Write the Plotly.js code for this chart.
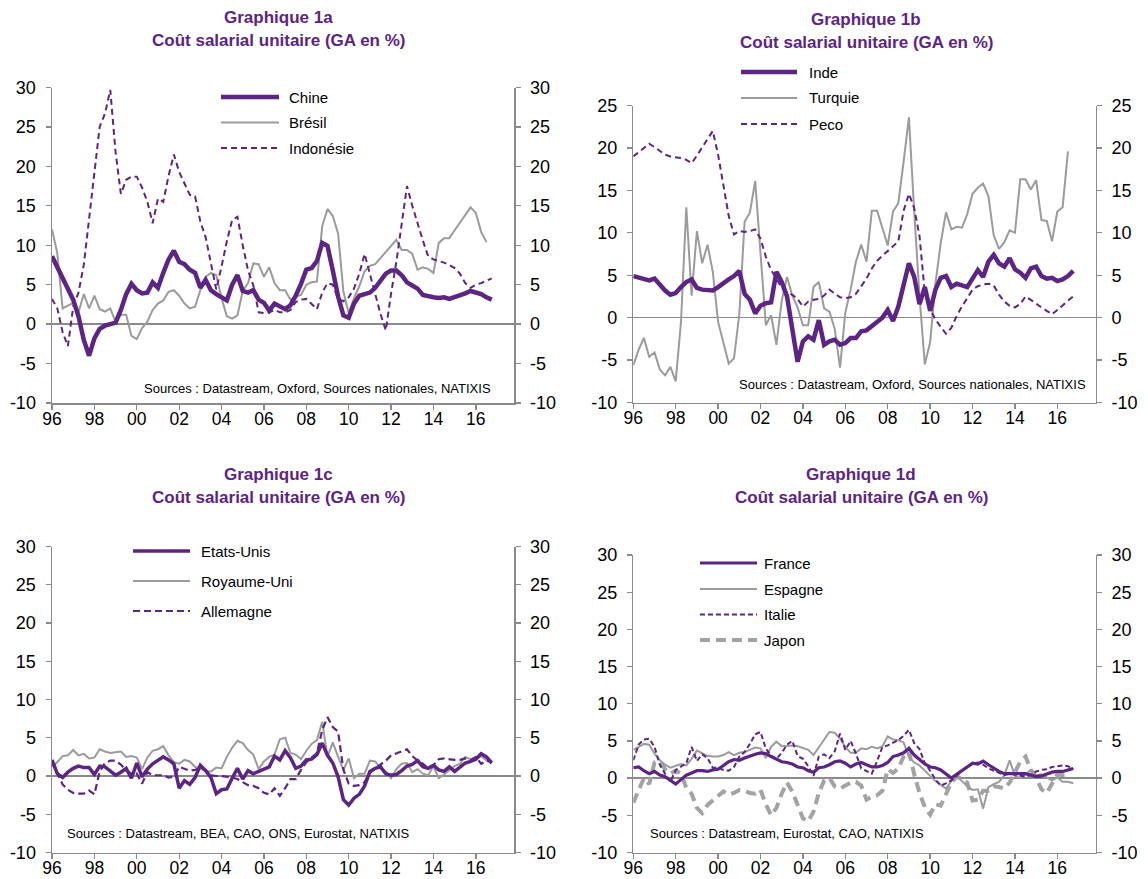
<!DOCTYPE html>
<html><head><meta charset="utf-8">
<script src="https://cdn.plot.ly/plotly-3.0.1.min.js"></script>
<style>html,body{margin:0;padding:0;background:#fff}#chart{width:1148px;height:879px}</style>
</head><body><div id="chart"></div>
<script>
// ---------- DATA ----------
const quarters = [];
for (let i = 0; i < 84; i++) quarters.push(1996 + i / 4);
const tickYears = [1996, 1998, 2000, 2002, 2004, 2006, 2008, 2010, 2012, 2014, 2016];
const tickLabels = ['96', '98', '00', '02', '04', '06', '08', '10', '12', '14', '16'];
const yTicks30 = [-10, -5, 0, 5, 10, 15, 20, 25, 30];
const yLabels30 = ['-10', '-5', '0', '5', '10', '15', '20', '25', '30'];
const yTicks25 = [-10, -5, 0, 5, 10, 15, 20, 25];
const yLabels25 = ['-10', '-5', '0', '5', '10', '15', '20', '25'];

// Graphique 1a
const chine = [8.6,7.3,6.0,4.5,3.1,1.0,-2.0,-4.0,-1.8,-0.6,-0.2,0.0,0.2,1.8,3.8,5.1,4.3,3.9,4.0,5.3,4.6,6.5,8.2,9.3,7.9,7.6,6.9,6.5,4.6,5.6,4.3,3.8,3.4,3.0,5.0,6.2,4.2,4.0,4.3,3.1,2.7,1.7,2.6,2.2,1.9,2.4,3.6,5.1,6.9,7.1,8.0,10.3,9.9,6.8,3.5,1.1,0.8,2.6,3.6,3.8,4.0,4.6,5.5,6.4,6.8,6.8,6.2,5.3,4.9,4.5,3.7,3.5,3.4,3.3,3.4,3.2,3.4,3.6,3.9,4.2,4.0,3.8,3.4,3.1];
const bresil = [12.0,9.0,2.0,2.4,2.7,1.5,3.8,2.0,3.6,1.9,1.6,2.0,0.3,1.2,1.2,-1.5,-1.9,-0.5,0.3,1.8,2.6,3.0,4.1,4.3,3.6,2.6,2.0,2.2,4.3,6.0,6.5,6.2,3.3,1.0,0.7,1.1,4.2,5.2,7.7,7.6,6.0,7.2,5.2,4.3,4.3,3.1,3.5,3.7,5.0,5.3,5.4,12.4,14.6,13.7,11.5,4.1,1.4,3.3,4.8,6.7,7.4,7.6,8.4,9.1,10.0,10.7,9.4,9.4,8.9,6.9,7.2,7.0,6.5,10.3,10.9,10.9,11.9,12.9,13.9,14.8,14.1,11.7,10.4];
const indonesie = [3.2,2.0,-1.0,-2.8,2.2,4.0,7.5,13.2,19.0,25.0,26.7,29.7,21.8,16.5,18.3,18.7,18.7,17.3,15.5,12.8,15.9,15.5,18.8,21.5,19.3,17.8,16.4,16.2,13.0,11.0,7.5,4.4,7.3,10.5,13.2,13.6,10.0,6.8,4.9,1.5,1.4,1.5,1.8,1.5,1.5,1.8,2.8,3.1,3.2,2.6,1.9,4.0,5.2,5.0,3.2,2.9,3.4,4.5,6.4,8.9,6.3,3.8,1.3,-0.8,3.9,7.9,12.7,17.5,15.0,12.7,10.6,8.6,8.2,8.0,7.8,7.5,7.1,6.4,5.2,4.6,5.0,5.2,5.5,5.8];

// Graphique 1b
const inde = [4.9,4.7,4.5,4.4,4.6,3.9,3.2,2.7,2.9,3.6,4.2,4.5,3.5,3.3,3.3,3.2,3.6,4.1,4.5,4.9,5.5,2.8,2.1,0.5,1.4,1.7,1.8,5.4,4.2,2.5,-1.3,-5.2,-2.8,-2.2,-2.6,-0.3,-3.2,-2.8,-2.6,-3.2,-3.0,-2.4,-2.4,-1.6,-1.5,-1.0,-0.4,0.0,0.9,-0.4,1.3,4.0,6.4,4.8,1.6,3.6,0.8,3.3,4.7,4.9,3.6,4.0,3.8,3.6,4.6,5.6,4.8,6.6,7.4,6.4,6.0,7.0,5.7,5.3,4.7,5.8,6.0,4.9,4.6,4.7,4.3,4.5,4.9,5.5];
const turquie = [-5.6,-3.8,-2.4,-4.6,-4.1,-6.1,-6.8,-5.8,-7.5,-0.5,13.0,2.6,10.2,6.4,8.6,5.4,-0.5,-2.9,-5.4,-4.8,0.4,11.3,12.4,16.1,8.0,-0.9,0.3,-3.2,2.0,4.8,2.6,1.2,-0.9,-0.9,3.6,4.2,1.1,0.7,-1.3,-5.9,0.6,3.3,6.6,8.6,6.6,12.6,12.6,10.6,8.5,12.5,13.5,18.4,23.6,12.5,2.5,-5.5,-2.9,4.0,8.8,12.4,10.4,10.7,10.6,12.2,14.6,15.3,15.8,14.3,9.7,8.1,8.9,10.3,10.0,16.3,16.3,15.1,16.2,11.5,11.4,9.0,12.5,13.0,19.6];
const peco = [19.0,19.5,20.0,20.5,20.1,19.6,19.2,19.0,18.9,18.8,18.6,18.2,19.1,20.1,21.0,22.0,19.2,15.5,12.0,9.8,10.2,10.1,10.2,10.4,9.3,7.2,5.6,4.6,3.5,3.0,2.7,2.2,1.3,1.9,2.1,2.2,2.6,3.3,2.8,2.4,2.3,2.4,2.8,3.7,4.6,5.8,6.7,7.3,7.8,8.4,9.0,12.6,14.6,12.9,9.6,2.9,1.0,-0.2,-1.1,-1.9,-1.2,0.2,1.3,2.3,3.3,3.7,3.9,4.0,3.8,2.7,1.9,1.4,1.2,1.6,2.5,2.1,1.6,1.2,0.8,0.4,0.9,1.5,2.0,2.5];

// Graphique 1c
const etatsUnis = [2.1,0.3,-0.2,0.5,1.0,1.3,1.1,1.1,0.2,1.3,1.2,0.6,0.1,0.5,1.0,-0.3,1.7,-0.1,0.9,1.6,2.0,2.5,2.1,1.6,-1.6,-0.6,-1.1,-0.2,1.4,0.7,-0.2,-2.3,-1.8,-1.7,-0.3,1.0,-0.4,0.7,0.3,0.6,1.0,1.2,2.6,2.1,3.3,2.4,1.0,1.3,2.1,2.2,2.8,4.3,2.7,1.7,-0.1,-3.1,-3.8,-2.9,-2.4,-1.3,0.6,1.0,1.2,0.3,0.1,0.2,0.7,1.3,1.5,2.0,1.2,1.0,1.4,0.8,0.6,1.2,0.6,1.2,1.7,1.9,2.2,2.9,2.5,1.7];
const royaumeUni = [1.2,1.8,2.6,2.7,3.4,2.7,2.9,2.3,2.4,3.5,3.2,3.0,3.1,3.2,2.5,2.6,2.4,0.9,2.4,3.3,3.5,3.9,2.7,1.8,1.6,2.1,1.9,1.2,1.0,0.6,0.6,1.1,1.0,2.5,3.7,4.6,4.3,3.4,2.8,0.9,1.9,2.5,2.8,4.8,5.0,3.0,2.8,2.2,3.3,4.2,4.7,7.1,2.5,4.4,2.5,0.8,2.3,-0.3,0.3,0.3,2.0,1.9,1.0,0.6,-0.3,0.9,1.6,1.7,0.5,0.9,0.3,0.1,1.3,-0.3,0.2,0.8,1.3,1.6,2.5,2.2,2.2,2.6,2.0,1.7];
const allemagne = [1.9,0.3,-1.1,-1.8,-2.2,-2.3,-2.3,-1.9,-2.4,0.6,1.7,2.0,2.0,1.5,0.7,0.3,0.3,-1.0,0.5,0.1,0.1,0.1,-0.2,-0.1,1.2,1.0,0.7,0.8,1.0,0.8,0.1,0.0,0.0,-0.1,-0.2,-0.4,-0.8,-1.2,-1.3,-1.6,-2.2,-2.4,-1.6,-2.6,-1.6,-0.4,-0.4,0.8,1.8,2.4,3.0,6.0,7.7,6.4,5.8,0.8,-1.0,-1.3,-1.2,-0.8,0.4,1.0,1.5,2.0,2.7,3.0,3.3,3.5,2.6,2.0,1.6,1.0,1.4,2.2,2.3,2.2,2.1,2.1,2.3,2.1,2.5,1.6,2.0,1.9];

// Graphique 1d
const france = [1.4,1.5,1.0,0.6,0.9,0.4,0.2,-0.3,-0.8,-0.2,0.4,0.7,1.0,1.0,0.9,1.1,1.2,1.7,2.2,2.5,2.4,2.7,3.0,3.2,3.4,3.3,2.9,2.5,2.2,2.1,1.9,1.5,1.4,1.0,0.8,1.4,1.5,1.8,2.2,2.3,2.0,1.5,1.9,2.1,1.8,1.5,1.5,1.7,2.1,2.9,3.1,3.4,4.0,3.1,2.5,1.9,1.5,1.4,1.1,0.5,0.0,0.5,1.0,1.6,2.0,1.9,2.3,1.8,1.3,0.9,0.6,0.6,0.5,0.6,0.6,0.4,0.2,0.3,0.6,0.8,0.9,0.9,1.1,1.3];
const espagne = [3.8,4.2,4.6,4.5,3.3,2.4,1.8,1.4,1.6,1.9,1.7,2.6,3.7,3.3,3.0,2.9,2.9,3.1,3.5,3.1,3.4,3.5,3.8,4.1,4.0,2.7,4.2,4.9,4.3,4.4,4.4,4.3,4.1,3.8,3.1,4.1,5.2,6.2,6.1,5.3,4.2,3.4,3.4,4.0,3.9,4.2,4.0,4.3,5.6,5.2,5.1,4.8,2.8,2.1,1.7,1.0,0.2,-0.4,-0.9,-1.4,-0.4,0.3,-0.4,-1.1,-1.6,-1.5,-4.1,-1.2,-0.8,-0.5,0.4,2.4,0.3,0.0,0.5,1.1,0.4,0.5,0.1,-0.3,0.1,-0.5,-0.5,-0.7];
const italie = [2.4,4.5,5.2,5.3,4.2,1.8,0.6,-0.5,1.1,1.5,2.0,4.2,2.3,3.2,2.7,1.4,1.4,1.1,1.0,1.5,2.9,3.5,4.6,5.9,6.2,4.0,3.0,2.6,3.4,4.5,5.0,3.0,2.6,1.6,0.3,2.9,3.2,2.7,3.6,6.0,3.8,5.0,3.3,1.3,1.0,0.6,2.3,4.2,4.4,4.8,5.1,5.7,6.5,4.7,3.9,2.0,1.0,-0.2,-1.0,-0.7,-0.3,0.3,1.0,1.5,1.9,2.1,1.8,1.3,1.0,0.6,0.4,0.6,0.5,0.4,0.2,0.4,0.9,1.1,1.2,1.5,1.6,1.7,1.6,1.2];
const japon = [-3.3,-1.6,0.0,-0.8,2.1,2.3,1.2,0.6,1.0,0.6,-1.3,-2.1,-4.0,-4.7,-3.6,-3.0,-2.4,-1.8,-2.2,-2.0,-1.6,-1.7,-2.0,-2.1,-1.6,-3.5,-5.0,-4.0,-2.1,-0.6,-1.8,-3.5,-5.4,-5.8,-4.5,-2.0,-0.3,0.0,-1.1,-1.4,-1.0,-0.6,-0.5,-1.0,-2.9,-2.5,-2.3,-1.7,1.2,0.7,1.3,2.9,3.6,0.5,-2.0,-3.9,-4.9,-3.5,-3.7,-2.1,-0.6,0.2,-0.1,-0.6,-3.0,-2.9,-1.7,-1.7,-1.1,-1.2,-1.4,-0.6,0.8,2.2,2.9,1.1,0.1,-1.5,-2.0,-0.8,0.5,0.4,0.5];

// ---------- STYLE / LAYOUT ----------
const W = 1148, H = 879;
const PURPLE = '#5c2483';
const GRAY = '#9b9b9b';
const JGRAY = '#a3a3a3';
const AXIS = '#8a8a8a';
const FONT = 'Liberation Sans, Arial, sans-serif';
const px = v => v / W;
const py = v => 1 - v / H;

const panels = [
  {xs: [52, 514],       ys: [87.5, 403],    range: [-10, 30], tv: yTicks30, tt: yLabels30},
  {xs: [633.3, 1095.5], ys: [105.5, 402.5], range: [-10, 25], tv: yTicks25, tt: yLabels25},
  {xs: [52, 514],       ys: [546.5, 852.5], range: [-10, 30], tv: yTicks30, tt: yLabels30},
  {xs: [633.3, 1095.5], ys: [555, 852.5],   range: [-10, 30], tv: yTicks30, tt: yLabels30}
];

const layout = {
  width: W, height: H,
  margin: {l: 0, r: 0, t: 0, b: 0},
  paper_bgcolor: '#fff', plot_bgcolor: 'rgba(0,0,0,0)',
  showlegend: false,
  font: {family: FONT, size: 18, color: '#000'},
  shapes: [], annotations: []
};

panels.forEach((p, k) => {
  const n = k + 1;
  const xName = n === 1 ? 'xaxis' : 'xaxis' + n;
  const yName = n === 1 ? 'yaxis' : 'yaxis' + n;
  const yrName = 'yaxis' + (n + 4);
  const yId = n === 1 ? 'y' : 'y' + n;
  const xId = n === 1 ? 'x' : 'x' + n;
  layout[xName] = {
    domain: [px(p.xs[0]), px(p.xs[1])], anchor: yId,
    range: [1996, 2017.8], tickmode: 'array', tickvals: tickYears, ticktext: tickLabels,
    ticks: 'outside', ticklen: 5, tickwidth: 1.3, tickcolor: AXIS,
    showline: true, linecolor: AXIS, linewidth: 1.5,
    showgrid: false, zeroline: false, fixedrange: true, ticklabelstandoff: -6,
    tickfont: {family: FONT, size: 17.5, color: '#000'}
  };
  const yCommon = {
    range: p.range, tickmode: 'array', tickvals: p.tv, ticktext: p.tt,
    ticks: 'outside', ticklen: 5, tickwidth: 1.3, tickcolor: AXIS,
    showline: true, linecolor: AXIS, linewidth: 1.5,
    showgrid: false, fixedrange: true, ticklabelstandoff: 6,
    tickfont: {family: FONT, size: 18, color: '#000'}
  };
  layout[yName] = Object.assign({}, yCommon, {
    domain: [py(p.ys[1]), py(p.ys[0])], anchor: xId,
    zeroline: true, zerolinecolor: AXIS, zerolinewidth: 1.6
  });
  layout[yrName] = Object.assign({}, yCommon, {
    overlaying: yId, side: 'right', anchor: xId, zeroline: false
  });
});

function tr(name, y, n, color, width, dash) {
  const xId = n === 1 ? 'x' : 'x' + n;
  const yId = n === 1 ? 'y' : 'y' + n;
  return {
    type: 'scatter', mode: 'lines', name: name,
    x: quarters.slice(0, y.length), y: y, xaxis: xId, yaxis: yId,
    line: {color: color, width: width, dash: dash || 'solid'},
    hoverinfo: 'skip', showlegend: false
  };
}
function dummy(n) {
  return {type: 'scatter', mode: 'lines', x: [null], y: [null],
    xaxis: n === 1 ? 'x' : 'x' + n, yaxis: 'y' + (n + 4), showlegend: false, hoverinfo: 'skip'};
}

const series = {
  1: [
    {name: 'Chine', y: chine, color: PURPLE, width: 4.5, dash: 'solid', order: 3},
    {name: 'Brésil', y: bresil, color: GRAY, width: 2, dash: 'solid', order: 1},
    {name: 'Indonésie', y: indonesie, color: PURPLE, width: 2, dash: '6px,4px', order: 2}
  ],
  2: [
    {name: 'Inde', y: inde, color: PURPLE, width: 4.5, dash: 'solid', order: 3},
    {name: 'Turquie', y: turquie, color: GRAY, width: 2, dash: 'solid', order: 1},
    {name: 'Peco', y: peco, color: PURPLE, width: 2, dash: '6px,4px', order: 2}
  ],
  3: [
    {name: 'Etats-Unis', y: etatsUnis, color: PURPLE, width: 3.5, dash: 'solid', order: 3},
    {name: 'Royaume-Uni', y: royaumeUni, color: GRAY, width: 2, dash: 'solid', order: 1},
    {name: 'Allemagne', y: allemagne, color: PURPLE, width: 2.2, dash: '7px,4px', order: 2}
  ],
  4: [
    {name: 'France', y: france, color: PURPLE, width: 3.2, dash: 'solid', order: 4},
    {name: 'Espagne', y: espagne, color: GRAY, width: 2, dash: 'solid', order: 2},
    {name: 'Italie', y: italie, color: PURPLE, width: 2, dash: '5px,3px', order: 3},
    {name: 'Japon', y: japon, color: JGRAY, width: 4, dash: '10px,6px', order: 1}
  ]
};

const legendPos = {
  1: {x0: 221, x1: 279, tx: 287, ys: [97, 122.5, 148]},
  2: {x0: 741, x1: 797, tx: 807, ys: [72, 98, 124]},
  3: {x0: 133, x1: 190, tx: 199, ys: [551, 581, 611]},
  4: {x0: 700, x1: 757, tx: 762, ys: [563, 589, 614.5, 640]}
};

const traces = [];
[1, 2, 3, 4].forEach(n => {
  const list = series[n].slice().sort((a, b) => a.order - b.order);
  list.forEach(s => traces.push(tr(s.name, s.y, n, s.color, s.width, s.dash)));
  traces.push(dummy(n));
  const lp = legendPos[n];
  series[n].forEach((s, j) => {
    layout.shapes.push({type: 'line', xref: 'paper', yref: 'paper',
      x0: px(lp.x0), x1: px(lp.x1), y0: py(lp.ys[j]), y1: py(lp.ys[j]),
      line: {color: s.color, width: s.width, dash: s.dash}});
    layout.annotations.push({xref: 'paper', yref: 'paper', x: px(lp.tx), y: py(lp.ys[j]),
      xanchor: 'left', yanchor: 'middle', showarrow: false, text: s.name,
      font: {family: FONT, size: 15, color: '#000'}});
  });
});

// Titles
const titles = [
  {label: 'Graphique 1a', cx: 278, y1: 18, y2: 41},
  {label: 'Graphique 1b', cx: 866, y1: 19, y2: 42},
  {label: 'Graphique 1c', cx: 278, y1: 474, y2: 497},
  {label: 'Graphique 1d', cx: 861, y1: 474, y2: 497}
];
titles.forEach(t => {
  [[t.label, t.y1], ['Coût salarial unitaire (GA en %)', t.y2]].forEach(([txt, yy]) => {
    layout.annotations.push({xref: 'paper', yref: 'paper', x: px(t.cx), y: py(yy),
      xanchor: 'center', yanchor: 'middle', showarrow: false, text: '<b>' + txt + '</b>',
      font: {family: FONT, size: 17, color: PURPLE}});
  });
});

// Sources
const sources = [
  {text: 'Sources : Datastream, Oxford, Sources nationales, NATIXIS', x: 142, y: 388},
  {text: 'Sources : Datastream, Oxford, Sources nationales, NATIXIS', x: 737, y: 384},
  {text: 'Sources : Datastream, BEA, CAO, ONS, Eurostat, NATIXIS', x: 65, y: 833},
  {text: 'Sources : Datastream, Eurostat, CAO, NATIXIS', x: 648, y: 833}
];
sources.forEach(s => layout.annotations.push({xref: 'paper', yref: 'paper', x: px(s.x), y: py(s.y),
  xanchor: 'left', yanchor: 'middle', showarrow: false, text: s.text,
  font: {family: FONT, size: 13, color: '#000'}}));

Plotly.newPlot('chart', traces, layout, {displayModeBar: false, staticPlot: true});
</script>
</body></html>
